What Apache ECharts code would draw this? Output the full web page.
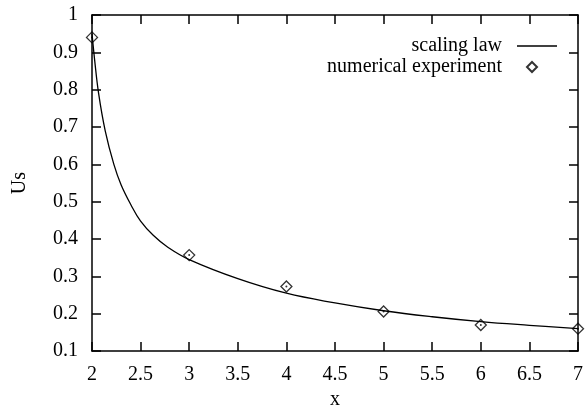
<!DOCTYPE html>
<html>
<head>
<meta charset="utf-8">
<script src="https://cdn.jsdelivr.net/npm/echarts@6/dist/echarts.min.js"></script>
<style>
  html, body { margin: 0; padding: 0; background: #fff; }
  #chart { width: 586px; height: 415px; }
</style>
</head>
<body>
<div id="chart"></div>
<script>
// scaling law curve
const lawX = [2.0, 2.027, 2.068, 2.136, 2.225, 2.30, 2.40, 2.50, 2.63, 2.78, 3.0, 3.5, 4.0, 4.5, 5.0, 5.5, 6.0, 6.5, 7.0];
const lawY = [0.95, 0.88, 0.79, 0.69, 0.60, 0.545, 0.492, 0.448, 0.41, 0.378, 0.345, 0.294, 0.255, 0.229, 0.208, 0.192, 0.179, 0.169, 0.160];

// numerical experiment points
const expX = [2, 3, 4, 5, 6, 7];
const expY = [0.94, 0.357, 0.273, 0.206, 0.170, 0.160];

const FONT = "Liberation Serif";
const black = "#000";

const chart = echarts.init(document.getElementById("chart"));

const frameAxis = {
  axisLine: { show: true, lineStyle: { color: black, width: 1.5 } },
  axisTick: { show: true, inside: true, length: 9, lineStyle: { color: black, width: 1.5 } },
  splitLine: { show: false },
};

const option = {
  animation: false,
  backgroundColor: "#fff",
  grid: { left: 92, right: 5, top: 15, bottom: 59 },
  legend: [
    {
      data: [{ name: "scaling law", icon: "rect" }],
      right: 29,
      top: 36,
      padding: 0,
      align: "right",
      itemWidth: 40,
      itemHeight: 1.3,
      textStyle: { fontFamily: FONT, fontSize: 20, color: black, padding: [0, 10, 0, 0] },
    },
    {
      data: ["numerical experiment"],
      right: 48,
      top: 57,
      padding: 0,
      align: "right",
      itemWidth: 10,
      itemHeight: 10,
      textStyle: { fontFamily: FONT, fontSize: 20, color: black, padding: [0, 20, 0, 0] },
    },
  ],
  xAxis: [
    Object.assign({}, frameAxis, {
      type: "value",
      position: "bottom",
      min: 2,
      max: 7,
      interval: 0.5,
      name: "x",
      nameLocation: "middle",
      nameGap: 25,
      nameTextStyle: { fontFamily: FONT, fontSize: 20, color: black },
      axisLabel: { fontFamily: FONT, fontSize: 20, color: black, margin: 14 },
    }),
    Object.assign({}, frameAxis, {
      type: "value",
      position: "top",
      min: 2,
      max: 7,
      interval: 0.5,
      axisLabel: { show: false },
    }),
  ],
  yAxis: [
    Object.assign({}, frameAxis, {
      type: "value",
      position: "left",
      min: 0.1,
      max: 1,
      interval: 0.1,
      name: "Us",
      nameLocation: "middle",
      nameGap: 62,
      nameTextStyle: { fontFamily: FONT, fontSize: 20, color: black },
      axisLabel: { fontFamily: FONT, fontSize: 20, color: black, margin: 14 },
    }),
    Object.assign({}, frameAxis, {
      type: "value",
      position: "right",
      min: 0.1,
      max: 1,
      interval: 0.1,
      axisLabel: { show: false },
    }),
  ],
  series: [
    {
      name: "scaling law",
      type: "line",
      data: lawX.map((x, i) => [x, lawY[i]]),
      smooth: 0.4,
      showSymbol: false,
      symbol: "none",
      lineStyle: { color: black, width: 1.3 },
      itemStyle: { color: black },
    },
    {
      name: "numerical experiment",
      type: "scatter",
      data: expX.map((x, i) => [x, expY[i]]),
      symbol: "diamond",
      symbolSize: 11,
      itemStyle: { color: "rgba(0,0,0,0)", borderColor: black, borderWidth: 1.3 },
      z: 3,
    },
    {
      name: "centre dots",
      type: "scatter",
      data: expX.map((x, i) => [x, expY[i]]),
      symbol: "circle",
      symbolSize: 2,
      itemStyle: { color: black },
      silent: true,
      z: 4,
    },
  ],
};

chart.setOption(option);
</script>
</body>
</html>
